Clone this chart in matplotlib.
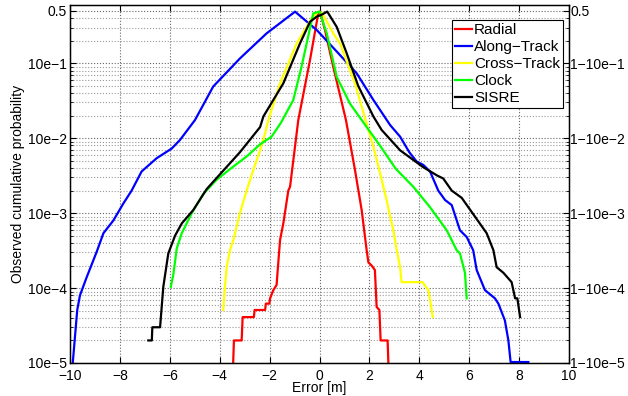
import matplotlib
matplotlib.use("Agg")
import matplotlib.pyplot as plt
from matplotlib.ticker import FixedLocator, NullFormatter, LogLocator

plt.rcParams["font.family"] = ["Liberation Sans", "DejaVu Sans"]
plt.rcParams["font.size"] = 10

# folded CDF curves (x = error [m], y = probability)
radial_x = [-3.47, -3.43, -3.12, -3.08, -2.63, -2.60, -2.18, -2.15, -2.01, -1.98, -1.85, -1.72,
            -1.62, -1.58, -1.45, -1.25, -1.18, -0.85, -0.38, -0.05, 0.02, 0.22, 0.55, 1.06,
            1.42, 1.69, 1.89, 1.96, 2.09, 2.22, 2.29, 2.40, 2.45, 2.73, 2.77]
radial_y = [8e-6, 2.0e-5, 2.0e-5, 4.1e-5, 4.1e-5, 5.1e-5, 5.1e-5, 6.2e-5, 6.2e-5, 7.3e-5, 9.4e-5, 1.1e-4,
            3.0e-4, 4.4e-4, 7.3e-4, 2.0e-3, 2.25e-3, 1.75e-2, 0.111, 0.464, 0.49, 0.278, 0.090, 0.0175,
            3.8e-3, 1.1e-3, 3.2e-4, 2.2e-4, 2.0e-4, 1.74e-4, 5.6e-5, 5.1e-5, 2.0e-5, 2.0e-5, 8e-6]

along_x = [-9.92, -9.89, -9.71, -9.60, -9.33, -8.93, -8.66, -8.26, -7.86, -7.53, -7.13, -6.53,
           -5.92, -5.59, -4.99, -4.26, -3.19, -2.12, -0.98, -0.11, 0.82, 1.49, 2.16, 2.83,
           3.23, 3.60, 3.89, 4.16, 4.43, 4.76, 5.03, 5.30, 5.63, 5.90, 6.16, 6.30, 6.63,
           7.03, 7.17, 7.43, 7.57, 7.66, 8.37]
along_y = [8e-6, 1.0e-5, 5.1e-5, 8.0e-5, 1.4e-4, 3.05e-4, 5.4e-4, 8.0e-4, 1.35e-3, 2.0e-3, 3.6e-3, 5.4e-3,
           7.3e-3, 9.5e-3, 1.75e-2, 4.9e-2, 0.116, 0.251, 0.489, 0.278, 0.129, 0.0735, 0.0324, 0.015,
           0.0105, 6.5e-3, 4.9e-3, 4.4e-3, 3.6e-3, 2.0e-3, 1.5e-3, 1.28e-3, 5.9e-4, 4.8e-4, 3.2e-4, 1.74e-4, 9.4e-5,
           7.3e-5, 6.2e-5, 3.7e-5, 2.0e-5, 1.03e-5, 1.03e-5]

cross_x = [-3.86, -3.79, -3.72, -3.59, -3.45, -3.19, -2.90, -2.65, -2.38, -2.18, -2.05, -1.58,
           -0.91, -0.31, -0.05, 0.10, 0.55, 0.82, 1.42, 1.96, 2.16, 2.36, 2.56, 2.69, 2.83,
           2.96, 3.09, 3.23, 3.29, 4.13, 4.36, 4.43, 4.54]
cross_y = [5.1e-5, 1.04e-4, 1.9e-4, 3.2e-4, 4.4e-4, 1.0e-3, 2.1e-3, 3.8e-3, 6.9e-3, 0.0116, 0.0175, 0.054,
           0.185, 0.40, 0.49, 0.47, 0.251, 0.185, 0.054, 0.0129, 7.7e-3, 4.2e-3, 2.25e-3, 1.5e-3, 9e-4,
           5.9e-4, 3.3e-4, 1.9e-4, 1.2e-4, 1.2e-4, 9.4e-5, 7e-5, 4.1e-5]

clock_x = [-5.96, -5.86, -5.72, -5.52, -5.12, -4.66, -4.12, -3.45, -2.92, -2.38, -1.92, -1.55,
           -1.05, -0.72, -0.25, 0.0, 0.29, 0.69, 1.22, 1.89, 2.42, 3.06, 3.76, 4.43, 5.10,
           5.50, 5.63, 5.83, 5.90]
clock_y = [1.04e-4, 1.5e-4, 3.4e-4, 5.4e-4, 1.0e-3, 1.8e-3, 2.8e-3, 4.2e-3, 5.7e-3, 8.3e-3, 0.0105, 0.016,
           0.0324, 0.090, 0.464, 0.49, 0.251, 0.066, 0.029, 0.0141, 8.0e-3, 3.9e-3, 2.25e-3, 1.2e-3, 5.9e-4,
           3.2e-4, 2.9e-4, 1.6e-4, 7.3e-5]

sisre_x = [-6.86, -6.72, -6.70, -6.39, -6.26, -6.06, -5.79, -5.52, -5.06, -4.52, -3.99, -3.19,
           -2.38, -2.25, -1.45, -0.78, -0.38, -0.11, 0.06, 0.31, 0.69, 1.09, 1.55, 2.16, 2.49,
           3.23, 4.16, 4.70, 4.96, 5.30, 5.70, 6.23, 6.70, 6.97, 7.10, 7.37, 7.70, 7.84, 7.93, 8.04]
sisre_y = [2.0e-5, 2.0e-5, 3.0e-5, 3.0e-5, 1.04e-4, 2.9e-4, 5.0e-4, 7.3e-4, 1.1e-3, 2.1e-3, 3.3e-3, 6.5e-3,
           0.0141, 0.0195, 0.054, 0.185, 0.358, 0.42, 0.44, 0.49, 0.306, 0.136, 0.05, 0.0195, 0.0129,
           6.9e-3, 4.1e-3, 3.2e-3, 2.9e-3, 2.0e-3, 1.6e-3, 9e-4, 5.4e-4, 3.2e-4, 1.9e-4, 1.6e-4, 1.2e-4, 7.3e-5, 7.3e-5, 4.1e-5]

labels = ["Radial", "Along\u2212Track", "Cross\u2212Track", "Clock", "SISRE"]
colors = ["#ff0000", "#0000ff", "#ffff00", "#00ff00", "#000000"]

y_ticks = [1e-5, 1e-4, 1e-3, 1e-2, 1e-1, 0.5]
left_labels = ["10e\u22125", "10e\u22124", "10e\u22123", "10e\u22122", "10e\u22121", "0.5"]
right_labels = ["1\u221210e\u22125", "1\u221210e\u22124", "1\u221210e\u22123", "1\u221210e\u22122", "1\u221210e\u22121", "0.5"]

fig = plt.figure(figsize=(6.28, 3.96), dpi=100)
ax = fig.add_axes([70 / 628, 33 / 396, 499 / 628, 358 / 396])

series = [(radial_x, radial_y), (along_x, along_y), (cross_x, cross_y), (clock_x, clock_y), (sisre_x, sisre_y)]
for (xs, ys), lab, c in zip(series, labels, colors):
    ax.plot(xs, ys, color=c, lw=1.6, label=lab)

ax.set_yscale("log")
ax.set_xlim(-10, 10)
ax.set_ylim(1e-5, 0.6)
ax.set_xticks(range(-10, 11, 2))
ax.set_xticklabels([str(v).replace("-", "\u2212") for v in range(-10, 11, 2)])
ax.yaxis.set_major_locator(FixedLocator(y_ticks))
ax.set_yticklabels(left_labels)
ax.yaxis.set_minor_locator(LogLocator(base=10, subs=range(2, 10)))
ax.yaxis.set_minor_formatter(NullFormatter())

ax.grid(True, which="major", ls=":", color="#666666", lw=0.8)
ax.grid(True, which="minor", axis="y", ls=":", color="#999999", lw=0.8)
ax.tick_params(which="both", direction="in", top=True)
ax.tick_params(which="major", length=4)
ax.tick_params(which="minor", length=2)
ax.tick_params(axis="x", pad=4)
ax.tick_params(axis="y", pad=2)

for sp in ax.spines.values():
    sp.set_linewidth(1.0)

ax2 = ax.twinx()
ax2.set_yscale("log")
ax2.set_ylim(1e-5, 0.6)
ax2.yaxis.set_major_locator(FixedLocator(y_ticks))
ax2.set_yticklabels(right_labels)
ax2.yaxis.set_minor_locator(LogLocator(base=10, subs=range(2, 10)))
ax2.yaxis.set_minor_formatter(NullFormatter())
ax2.tick_params(which="both", direction="in", pad=1)
ax2.tick_params(which="major", length=4)
ax2.tick_params(which="minor", length=2)

ax.set_xlabel("Error [m]", labelpad=-1)
ax.set_ylabel("Observed cumulative probability", labelpad=2)

leg = ax.legend(loc="upper right", bbox_to_anchor=(0.988, 0.958), fancybox=False, framealpha=1,
                edgecolor="black", fontsize=11, handlelength=1.1, handletextpad=0.15, borderpad=0.2,
                labelspacing=0.2, borderaxespad=0)
leg.get_frame().set_linewidth(0.8)

fig.savefig("out.png", dpi=100)
